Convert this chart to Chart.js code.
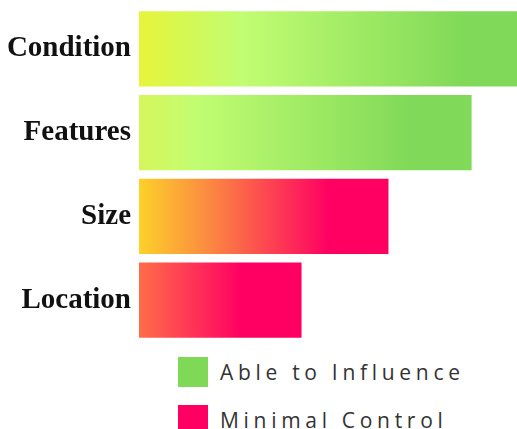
<!DOCTYPE html>
<html>
<head>
<meta charset="utf-8">
<script src="https://cdn.jsdelivr.net/npm/chart.js@4.4.1/dist/chart.umd.min.js"></script>
<style>
  html, body { margin: 0; padding: 0; background: #fff; }
  #wrap { position: relative; width: 517px; height: 429px; overflow: hidden; }
  #legend { position: absolute; left: 178px; top: 357px; font-family: "Open Sans", sans-serif; }
  .item { display: flex; align-items: center; height: 30px; margin-bottom: 18px; }
  .swatch { width: 30px; height: 30px; margin-right: 12px; }
  .label { font-size: 21px; letter-spacing: 4.7px; color: #333; }
</style>
</head>
<body>
<div id="wrap">
  <canvas id="chart" width="517" height="345"></canvas>
  <div id="legend"></div>
</div>
<script>
const categories = ['Condition', 'Features', 'Size', 'Location'];
const influenceValues = [100, 88, null, null];
const controlValues = [null, null, 66, 43];
const seriesLabels = ['Able to Influence', 'Minimal Control'];

// legend swatch colours and per-bar gradient stops
const swatchColors = ['#7fd957', '#ff0062'];
const barGradients = [
  [[0, '#e6f43a'], [0.27, '#c2fd72'], [0.86, '#80d958'], [1, '#80d958']],
  [[0, '#d6f65a'], [0.17, '#c2fd72'], [0.82, '#80d958'], [1, '#80d958']],
  [[0, '#fdd12a'], [0.27, '#fb8c40'], [0.76, '#ff0062'], [1, '#ff0062']],
  [[0, '#ff6d48'], [0.63, '#ff0062'], [1, '#ff0062']],
];

function barFill(context) {
  const chart = context.chart;
  const v = context.raw;
  if (!chart.chartArea || v == null) return swatchColors[context.datasetIndex];
  const xs = chart.scales.x;
  const x0 = xs.getPixelForValue(0);
  const x1 = xs.getPixelForValue(v);
  const g = chart.ctx.createLinearGradient(x0, 0, x1, 0);
  barGradients[context.dataIndex].forEach(([o, c]) => g.addColorStop(o, c));
  return g;
}

const chart = new Chart(document.getElementById('chart').getContext('2d'), {
  type: 'bar',
  data: {
    labels: categories,
    datasets: [
      { label: seriesLabels[0], data: influenceValues, backgroundColor: barFill },
      { label: seriesLabels[1], data: controlValues, backgroundColor: barFill },
    ],
  },
  options: {
    indexAxis: 'y',
    responsive: false,
    animation: false,
    datasets: { bar: { barPercentage: 1, categoryPercentage: 0.9 } },
    layout: { padding: { top: 7, bottom: 3, left: 0, right: 0 } },
    plugins: { legend: { display: false }, tooltip: { enabled: false } },
    scales: {
      x: { display: false, stacked: true, min: 0, max: 100 },
      y: {
        stacked: true,
        grid: { display: false, drawTicks: false },
        border: { display: false },
        afterFit: (axis) => {
          axis.width = 139;
          axis.paddingTop = 0;
          axis.paddingBottom = 0;
        },
        ticks: {
          padding: 8,
          color: '#111',
          font: { family: '"Liberation Serif", serif', weight: 'bold', size: 29 },
        },
      },
    },
  },
});

// legend built from the chart's datasets
const legend = document.getElementById('legend');
chart.data.datasets.forEach((ds, i) => {
  const item = document.createElement('div');
  item.className = 'item';
  const sw = document.createElement('div');
  sw.className = 'swatch';
  sw.style.background = swatchColors[i];
  const txt = document.createElement('span');
  txt.className = 'label';
  txt.textContent = ds.label;
  item.appendChild(sw);
  item.appendChild(txt);
  legend.appendChild(item);
});
</script>
</body>
</html>
